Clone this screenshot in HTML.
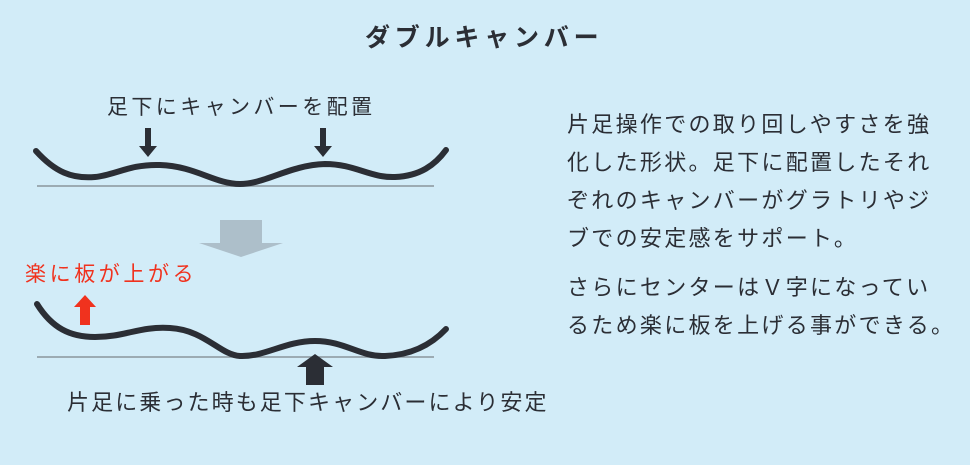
<!DOCTYPE html>
<html><head><meta charset="utf-8"><style>
body{margin:0;width:970px;height:465px;background:#d2ecf8;position:relative;overflow:hidden;font-family:"Liberation Sans","Noto Sans CJK JP",sans-serif;color:#2b2e35}
.t{position:absolute;white-space:nowrap;line-height:1}
.p{position:absolute;left:567px;font-size:22px;letter-spacing:2.3px;line-height:38px;white-space:nowrap}
</style></head><body>
<div class="t" style="left:365px;top:26px;font-size:25px;font-weight:bold;letter-spacing:4.8px">ダブルキャンバー</div>
<div class="t" style="left:107px;top:97px;font-size:21px;letter-spacing:3.4px">足下にキャンバーを配置</div>
<div class="t" style="left:25px;top:264px;font-size:21px;letter-spacing:3.6px;color:#f0321e">楽に板が上がる</div>
<div class="t" style="left:67px;top:392px;font-size:22px;letter-spacing:2.1px">片足に乗った時も足下キャンバーにより安定</div>
<div class="p" style="top:106px">片足操作での取り回しやすさを強<br>化した形状。足下に配置したそれ<br>ぞれのキャンバーがグラトリやジ<br>ブでの安定感をサポート。</div>
<div class="p" style="top:269px">さらにセンターはＶ字になってい<br>るため楽に板を上げる事ができる。</div>
<svg width="970" height="465" style="position:absolute;left:0;top:0">
<line x1="37" y1="186" x2="434" y2="186" stroke="#8a959c" stroke-width="1.5"/>
<path d="M36,151 C55,172 72,179 95,177 C115,175 130,164 160,165 C195,166 215,184 240,184 C265,184 290,165 325,164 C355,164 370,178 395,177 C420,176 435,165 446,150" fill="none" stroke="#2b2e35" stroke-width="6" stroke-linecap="round"/>
<path d="M145,128h6v18h6l-9,11l-9,-11h6z" fill="#2b2e35"/>
<path d="M320,128h6v18h6l-9,11l-9,-11h6z" fill="#2b2e35"/>
<path d="M220,220h42v23h21l-42,14l-42,-14h21z" fill="#adbfca"/>
<line x1="37" y1="357" x2="434" y2="357" stroke="#8a959c" stroke-width="1.5"/>
<path d="M37,304 C52,328 70,337 95,337 C125,337 140,326 170,328 C205,330 220,355 240,356 C265,357 285,341 315,341 C345,341 360,357 385,356 C410,355 430,346 446,329" fill="none" stroke="#2b2e35" stroke-width="6" stroke-linecap="round"/>
<path d="M80,325v-18h-6l11,-12l11,12h-6v18z" fill="#f0321e"/>
<path d="M306,385v-18h-9l18,-13l18,13h-9v18z" fill="#2b2e35"/>
</svg>
</body></html>
